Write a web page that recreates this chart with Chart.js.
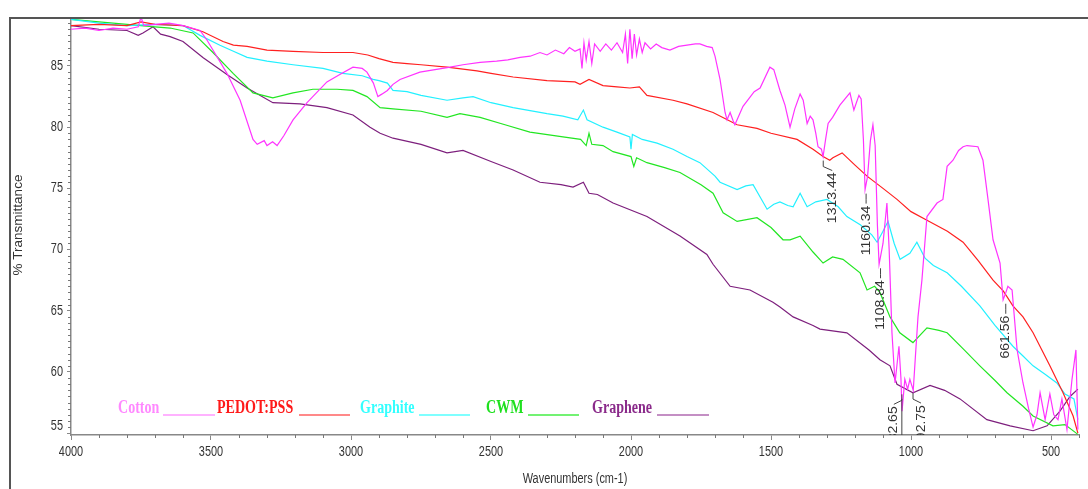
<!DOCTYPE html>
<html>
<head>
<meta charset="utf-8">
<script src="https://cdn.jsdelivr.net/npm/chart.js@4.4.1/dist/chart.umd.min.js"></script>
<style>
  html, body { margin: 0; padding: 0; background: #fff; }
  canvas { display: block; }
</style>
</head>
<body>
<canvas id="ftir" width="1088" height="489"></canvas>
<script>
// FTIR spectra, wavenumber (cm-1) -> % transmittance
const cottonWn = [4000, 3950, 3900, 3850, 3800, 3760, 3750, 3740, 3700, 3650, 3600, 3539, 3514, 3443, 3396, 3350, 3335, 3310, 3300, 3280, 3264, 3240, 3207, 3157, 3086, 3040, 2993, 2960, 2943, 2920, 2904, 2890, 2870, 2850, 2825, 2754, 2700, 2646, 2600, 2539, 2480, 2440, 2396, 2360, 2325, 2300, 2270, 2240, 2220, 2200, 2182, 2175, 2168, 2160, 2150, 2140, 2130, 2110, 2090, 2070, 2050, 2030, 2020, 2012, 2004, 1996, 1988, 1980, 1970, 1960, 1950, 1930, 1910, 1890, 1861, 1830, 1800, 1770, 1754, 1730, 1710, 1700, 1682, 1664, 1657, 1646, 1635, 1629, 1600, 1560, 1539, 1504, 1490, 1468, 1450, 1432, 1415, 1396, 1385, 1371, 1360, 1350, 1340, 1332, 1320, 1314, 1305, 1296, 1280, 1254, 1218, 1204, 1186, 1178, 1170, 1164, 1155, 1145, 1136, 1128, 1120, 1114, 1100, 1086, 1078, 1068, 1057, 1043, 1036, 1032, 1022, 1012, 1004, 996, 992, 985, 975, 961, 943, 907, 886, 871, 850, 830, 814, 800, 761, 743, 725, 707, 682, 671, 661, 654, 639, 621, 600, 580, 564, 550, 539, 521, 504, 490, 475, 461, 443, 425, 411, 404];
const cottonT = [88.0, 88.1, 87.9, 88.1, 88.0, 88.2, 89.0, 88.3, 88.4, 88.5, 88.3, 87.9, 87.1, 84.4, 82.2, 79.0, 78.6, 78.9, 78.5, 78.8, 78.5, 79.3, 80.6, 82.0, 83.7, 84.3, 84.9, 84.8, 84.5, 83.6, 82.5, 82.7, 83.0, 83.5, 83.9, 84.5, 84.7, 84.9, 85.1, 85.3, 85.4, 85.5, 85.7, 85.8, 86.1, 85.9, 86.3, 86.0, 86.5, 86.2, 86.4, 84.8, 86.9, 85.5, 87.0, 85.2, 86.8, 86.2, 86.8, 86.3, 86.9, 86.1, 87.6, 85.2, 88.0, 85.6, 87.6, 85.9, 87.2, 86.1, 86.9, 86.4, 86.8, 86.5, 86.3, 86.6, 86.7, 86.8, 86.8, 86.6, 86.5, 85.8, 83.9, 81.2, 80.6, 81.2, 80.5, 80.2, 81.7, 82.9, 83.2, 84.9, 84.7, 83.0, 81.8, 80.0, 81.5, 82.7, 82.2, 80.3, 80.9, 80.6, 79.5, 78.4, 78.2, 77.6, 79.0, 80.3, 80.8, 81.8, 82.8, 81.4, 82.6, 82.3, 79.0, 74.9, 76.0, 78.9, 80.2, 78.5, 72.0, 68.8, 70.5, 73.8, 70.0, 63.2, 59.1, 62.1, 59.5, 56.8, 59.4, 58.6, 59.4, 58.8, 58.5, 61.0, 64.5, 67.5, 72.7, 73.8, 74.1, 76.8, 77.3, 78.1, 78.4, 78.5, 78.4, 77.3, 74.1, 70.8, 68.9, 65.9, 66.5, 67.0, 66.7, 61.8, 59.1, 57.0, 55.5, 56.5, 58.3, 56.1, 58.2, 56.5, 56.1, 57.8, 55.3, 59.4, 61.8, 55.3];

const pedotWn = [4000, 3900, 3800, 3750, 3700, 3600, 3529, 3457, 3420, 3371, 3300, 3207, 3100, 2993, 2940, 2900, 2850, 2800, 2750, 2657, 2550, 2500, 2421, 2300, 2200, 2182, 2150, 2100, 2050, 2004, 1970, 1943, 1850, 1800, 1707, 1621, 1550, 1500, 1407, 1350, 1314, 1290, 1279, 1246, 1200, 1157, 1100, 1050, 1000, 943, 870, 814, 760, 707, 670, 636, 600, 564, 504, 457, 421, 404];
const pedotT = [88.3, 88.4, 88.3, 88.6, 88.4, 88.3, 87.8, 87.0, 86.7, 86.6, 86.3, 86.2, 86.1, 86.1, 85.9, 85.6, 85.3, 85.2, 85.1, 84.9, 84.6, 84.4, 84.1, 83.8, 83.7, 83.5, 83.9, 83.4, 83.3, 83.2, 83.3, 82.6, 82.2, 81.9, 81.2, 80.2, 79.9, 79.5, 79.0, 78.2, 77.6, 77.3, 77.5, 77.9, 76.9, 76.0, 75.0, 74.1, 73.1, 72.4, 71.5, 70.6, 69.1, 67.5, 66.6, 65.4, 64.5, 63.2, 60.5, 58.3, 56.4, 55.0];

const graphiteWn = [4000, 3900, 3800, 3700, 3600, 3539, 3468, 3420, 3371, 3300, 3207, 3100, 3029, 2960, 2921, 2900, 2870, 2850, 2800, 2750, 2657, 2600, 2564, 2500, 2421, 2300, 2243, 2190, 2170, 2157, 2100, 2050, 2004, 2000, 1995, 1960, 1907, 1850, 1800, 1754, 1700, 1682, 1621, 1590, 1564, 1514, 1490, 1468, 1440, 1421, 1396, 1371, 1340, 1300, 1260, 1229, 1180, 1140, 1121, 1100, 1082, 1060, 1039, 1004, 979, 950, 920, 871, 820, 754, 700, 636, 600, 564, 520, 479, 450, 418, 404];
const graphiteT = [88.8, 88.5, 88.3, 88.4, 88.3, 87.5, 86.7, 86.2, 85.7, 85.4, 85.1, 84.8, 84.4, 84.2, 83.9, 83.8, 83.6, 83.0, 82.9, 82.6, 82.2, 82.4, 82.5, 82.0, 81.6, 81.1, 80.9, 80.6, 81.4, 80.6, 80.0, 79.6, 79.2, 78.2, 79.4, 79.0, 78.7, 78.2, 77.6, 77.1, 76.0, 75.5, 74.9, 75.2, 75.3, 73.3, 73.7, 73.9, 73.6, 73.5, 74.6, 73.5, 73.9, 74.1, 73.5, 72.7, 72.0, 71.2, 70.6, 71.5, 72.3, 70.5, 69.2, 69.7, 70.6, 69.3, 68.7, 68.1, 67.0, 65.4, 63.8, 62.1, 61.3, 60.5, 59.8, 59.1, 58.2, 57.8, 56.1];

const cwmWn = [4000, 3900, 3800, 3700, 3646, 3564, 3493, 3421, 3350, 3279, 3207, 3136, 3050, 2993, 2943, 2896, 2850, 2750, 2657, 2611, 2539, 2450, 2361, 2243, 2180, 2160, 2150, 2140, 2100, 2064, 2000, 1990, 1980, 1943, 1880, 1825, 1750, 1707, 1671, 1621, 1550, 1500, 1457, 1432, 1396, 1350, 1314, 1280, 1243, 1182, 1157, 1130, 1111, 1075, 1040, 993, 943, 900, 871, 810, 754, 700, 657, 600, 564, 493, 450, 404];
const cwmT = [88.8, 88.6, 88.4, 88.2, 88.1, 87.7, 86.1, 84.4, 82.8, 82.4, 82.8, 83.1, 83.1, 83.0, 82.5, 81.6, 81.5, 81.3, 80.8, 81.1, 80.8, 80.2, 79.6, 79.2, 79.0, 78.5, 79.5, 78.6, 78.5, 78.0, 77.6, 76.8, 77.5, 77.1, 76.7, 76.3, 75.3, 74.6, 73.0, 72.3, 72.6, 71.8, 70.8, 70.8, 71.1, 69.8, 68.9, 69.4, 69.2, 68.1, 66.7, 67.0, 66.5, 64.5, 63.2, 62.4, 63.6, 63.4, 63.2, 61.8, 60.5, 59.3, 58.3, 57.2, 56.4, 55.6, 55.7, 54.9];

const grapheneWn = [4000, 3900, 3800, 3760, 3743, 3707, 3680, 3646, 3600, 3529, 3443, 3371, 3279, 3182, 3086, 2993, 2932, 2896, 2850, 2750, 2657, 2600, 2500, 2421, 2325, 2250, 2207, 2170, 2150, 2120, 2064, 1943, 1825, 1729, 1707, 1646, 1575, 1493, 1468, 1421, 1350, 1325, 1229, 1150, 1111, 1075, 1050, 993, 932, 880, 825, 729, 646, 564, 514, 468, 432, 404];
const grapheneT = [88.3, 88.0, 87.9, 87.5, 87.7, 88.2, 87.6, 87.4, 87.0, 85.7, 84.3, 83.2, 82.0, 81.9, 81.6, 81.0, 80.0, 79.5, 79.1, 78.6, 77.9, 78.1, 77.2, 76.5, 75.5, 75.3, 75.1, 75.5, 74.6, 74.5, 73.8, 72.7, 71.1, 69.6, 68.8, 67.0, 66.7, 65.7, 65.3, 64.5, 63.8, 63.5, 63.2, 61.8, 61.0, 60.5, 59.0, 58.3, 58.9, 58.5, 57.8, 56.1, 55.6, 55.2, 55.6, 56.8, 58.0, 58.6];

const seriesNames = ['Cotton', 'PEDOT:PSS', 'Graphite', 'CWM', 'Graphene'];
const xTicks = [4000, 3500, 3000, 2500, 2000, 1500, 1000, 500];
const yTicks = [55, 60, 65, 70, 75, 80, 85];

// labelled peaks (wavenumber, transmittance where the leader starts)
const peakWn = [1313.44, 1160.34, 1108.84, 1032.65, 992.75, 661.56];
const peakT = [77.6, 74.9, 68.8, 58.5, 58.6, 65.9];

// styling
const lineColors = ['#ff33ff', '#ff2020', '#22f0ff', '#22e622', '#7d1f7d'];
const legendText = ['#ff88ff', '#ff1a1a', '#33ffff', '#1fe01f', '#8a2a8a'];
const legendLine = ['#ff99ff', '#ff6262', '#55ffff', '#44ee44', '#b06ab0'];
const legendPos = [[118, 163, 215], [217, 299, 350], [360, 419, 470], [486, 528, 579], [592, 657, 709]];
const peakDx = [9, 0, 0, -8, 8, 0];
const squeeze = 0.78; // the figure is horizontally compressed
const sans = '"Liberation Sans", Arial, sans-serif';

function pts(wn, t) { return wn.map((w, i) => ({ x: w, y: t[i] })); }
const allData = [pts(cottonWn, cottonT), pts(pedotWn, pedotT), pts(graphiteWn, graphiteT), pts(cwmWn, cwmT), pts(grapheneWn, grapheneT)];

function squeezedText(ctx, text, x, y) {
  ctx.save();
  ctx.translate(x, y);
  ctx.scale(squeeze, 1);
  ctx.fillText(text, 0, 0);
  ctx.restore();
}

const decor = {
  id: 'decor',
  afterDraw(chart) {
    const ctx = chart.ctx, a = chart.chartArea;
    const xs = chart.scales.x, ys = chart.scales.y;
    ctx.save();
    // outer frame
    ctx.strokeStyle = '#555';
    ctx.lineWidth = 2;
    ctx.beginPath();
    ctx.moveTo(10, 489); ctx.lineTo(10, 18); ctx.lineTo(1088, 18);
    ctx.stroke();

    // minor ticks
    ctx.strokeStyle = '#777';
    ctx.lineWidth = 1;
    ctx.beginPath();
    for (let v = 55; v <= 88.5; v += 0.5) {
      if (v % 5 === 0) continue;
      const y = Math.round(ys.getPixelForValue(v)) + 0.5;
      ctx.moveTo(a.left - 3, y); ctx.lineTo(a.left, y);
    }
    for (let w = 400; w <= 4000; w += 100) {
      if (w % 500 === 0) continue;
      const x = Math.round(xs.getPixelForValue(w)) + 0.5;
      ctx.moveTo(x, a.bottom); ctx.lineTo(x, a.bottom + 3);
    }
    ctx.stroke();

    // tick labels (narrow, like the source plot)
    ctx.fillStyle = '#333';
    ctx.font = '14px ' + sans;
    ctx.textBaseline = 'middle';
    ctx.textAlign = 'right';
    yTicks.forEach(v => {
      const y = Math.min(ys.getPixelForValue(v), a.bottom - 9);
      squeezedText(ctx, String(v), a.left - 8, y);
    });
    ctx.textAlign = 'center';
    xTicks.forEach(w => {
      squeezedText(ctx, String(w), xs.getPixelForValue(w), a.bottom + 17);
    });

    // axis titles
    squeezedText(ctx, 'Wavenumbers (cm-1)', (a.left + a.right) / 2, 479);
    ctx.save();
    ctx.font = '13.5px ' + sans;
    ctx.translate(18, 225);
    ctx.rotate(-Math.PI / 2);
    ctx.fillText('% Transmittance', 0, 0);
    ctx.restore();

    // legend
    ctx.font = 'bold 18px "Liberation Serif", "Times New Roman", serif';
    ctx.textAlign = 'left';
    ctx.textBaseline = 'alphabetic';
    seriesNames.forEach((name, i) => {
      const p = legendPos[i];
      ctx.fillStyle = legendText[i];
      squeezedText(ctx, name, p[0], 413);
      ctx.strokeStyle = legendLine[i];
      ctx.lineWidth = 1.5;
      ctx.beginPath();
      ctx.moveTo(p[1], 415); ctx.lineTo(p[2], 415);
      ctx.stroke();
    });

    // peak labels
    ctx.beginPath();
    ctx.rect(a.left, a.top, a.right - a.left, a.bottom - a.top);
    ctx.clip();
    ctx.font = '14px ' + sans;
    ctx.textBaseline = 'middle';
    ctx.fillStyle = '#333';
    ctx.strokeStyle = '#444';
    ctx.lineWidth = 1;
    peakWn.forEach((w, i) => {
      const x = xs.getPixelForValue(w), y = ys.getPixelForValue(peakT[i]);
      const dx = peakDx[i];
      ctx.beginPath();
      ctx.moveTo(x, y + 4); ctx.lineTo(x, y + 10); ctx.lineTo(x + dx, y + 14);
      ctx.stroke();
      ctx.save();
      ctx.translate(x + dx, y + 16);
      ctx.rotate(-Math.PI / 2);
      ctx.scale(1, 0.9);
      ctx.textAlign = 'right';
      ctx.fillText(w.toFixed(2), 0, 0);
      ctx.restore();
    });
    // drop line of the 1032.65 band down to the axis
    const xd = xs.getPixelForValue(peakWn[3]);
    ctx.beginPath();
    ctx.moveTo(xd, ys.getPixelForValue(57.8)); ctx.lineTo(xd, a.bottom);
    ctx.stroke();
    ctx.restore();
  }
};

new Chart(document.getElementById('ftir'), {
  type: 'line',
  data: {
    datasets: allData.map((d, i) => ({
      label: seriesNames[i],
      data: d,
      borderColor: lineColors[i],
      borderWidth: 1.2,
      pointRadius: 0,
      tension: 0
    }))
  },
  options: {
    responsive: false,
    animation: false,
    devicePixelRatio: 1,
    layout: { padding: { top: 18, right: 9, left: 0, bottom: 0 } },
    plugins: { legend: { display: false }, tooltip: { enabled: false } },
    scales: {
      x: {
        type: 'linear',
        reverse: true,
        min: 400,
        max: 4000,
        afterBuildTicks: s => { s.ticks = xTicks.map(v => ({ value: v })); },
        afterFit: s => { s.height = 54; },
        grid: { drawOnChartArea: false, drawTicks: true, tickLength: 5, color: '#888' },
        border: { color: '#888', width: 1.5 },
        ticks: { display: false }
      },
      y: {
        min: 54.85,
        max: 88.92,
        afterBuildTicks: s => { s.ticks = yTicks.map(v => ({ value: v })); },
        afterFit: s => { s.width = 71; },
        grid: { drawOnChartArea: false, drawTicks: true, tickLength: 4, color: '#888' },
        border: { color: '#888', width: 1.5 },
        ticks: { display: false }
      }
    }
  },
  plugins: [decor]
});
</script>
</body>
</html>
